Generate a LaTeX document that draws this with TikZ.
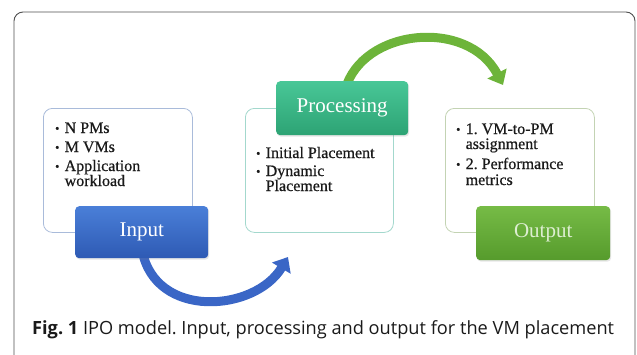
\documentclass[tikz,border=0pt]{standalone}
\usepackage{fontspec}
\setmainfont{Liberation Serif}
\newfontfamily\itemfont{Liberation Serif}[FakeBold=0.6]
\newfontfamily\capfont{Open Sans}
\usetikzlibrary{arrows.meta,shadows}
\definecolor{frameC}{HTML}{505050}
\definecolor{inT}{HTML}{4A7FD8}
\definecolor{inB}{HTML}{2E5AB4}
\definecolor{prT}{HTML}{48C797}
\definecolor{prB}{HTML}{2DA374}
\definecolor{ouT}{HTML}{76BB46}
\definecolor{ouB}{HTML}{569B2C}
\definecolor{inL}{HTML}{A9BBDA}
\definecolor{prL}{HTML}{A3D8CD}
\definecolor{ouL}{HTML}{C3D3B3}
\definecolor{arB}{HTML}{3A66C6}
\definecolor{arG}{HTML}{6DB43A}
\definecolor{txt}{HTML}{1A1A1A}
\tikzset{
  listbox/.style={draw=#1, line width=0.8pt, rounded corners=9pt, fill=white},
  tab/.style={rounded corners=4pt, top color=#1T, bottom color=#1B, draw=none,
    drop shadow={opacity=0.2, shadow xshift=1pt, shadow yshift=-1.5pt}},
  tabtext/.style={font=\fontsize{21}{24}\selectfont, text=#1},
  item/.style={anchor=base west, inner sep=0pt, text=txt, font=\itemfont\fontsize{16}{18}\selectfont},
  bigarrow/.style={draw=#1, line width=9pt, -{Triangle[width=21pt,length=13pt]}, #1},
}
\newcommand{\bul}{\makebox[9.5pt][l]{\raisebox{0.6pt}{\scalebox{0.75}{\textbullet}}}}
\begin{document}
\frenchspacing
\begin{tikzpicture}[x=1pt,y=-1pt]
\useasboundingbox (0,0) rectangle (637,354);
% outer frame
\draw[frameC, line width=0.9pt, rounded corners=9pt] (14,360) -- (14,12) -- (635,12) -- (635,360);

% list boxes
\node[listbox=inL, minimum width=149pt, minimum height=124pt, anchor=north west] (inbox) at (43,108) {};
\node[listbox=prL, minimum width=148pt, minimum height=124pt, anchor=north west] (prbox) at (245,108) {};
\node[listbox=ouL, minimum width=149pt, minimum height=124pt, anchor=north west] (oubox) at (445,108) {};

% arrows
\coordinate (bs) at (142,250);
\coordinate (bt) at (288,257);
\coordinate (gs) at (345,90);
\coordinate (gt) at (503,85);
\draw[bigarrow=arB] (bs) .. controls (155,320) and (255,312) .. (bt);
\draw[bigarrow=arG] (gs) .. controls (362,28) and (468,18) .. (gt);

% tabs
\node[tab=in, minimum width=133pt, minimum height=52pt, anchor=north west] (intab) at (75,206) {};
\node[tabtext=white] at (intab.center) {Input};
\node[tab=pr, minimum width=132pt, minimum height=54pt, anchor=north west] (prtab) at (276,81) {};
\node[tabtext=white] at (prtab.center) {Processing};
\node[tab=ou, minimum width=134pt, minimum height=54pt, anchor=north west] (outab) at (476,206) {};
\node[tabtext=ouT!25!white] at (outab.center) {Output};

% input items
\node[item] (i1) at (55,133) {\bul N PMs};
\node[item] (i2) at (55,152) {\bul M VMs};
\node[item] (i3) at (55,171) {\bul Application};
\node[item] (i4) at (64.5,186) {workload};
% processing items
\node[item] (p1) at (256,158) {\bul Initial Placement};
\node[item] (p2) at (256,176) {\bul Dynamic};
\node[item] (p3) at (265.5,191) {Placement};
% output items
\node[item] (o1) at (456,134) {\bul 1. VM-to-PM};
\node[item] (o2) at (465.5,149) {assignment};
\node[item] (o3) at (456,169) {\bul 2. Performance};
\node[item] (o4) at (465.5,185) {metrics};

% caption
\node[anchor=base west, inner sep=0pt, text=txt, font=\capfont\fontsize{18.2}{21}\selectfont] (cap) at (32,334)
  {\textbf{Fig. 1} IPO model. Input, processing and output for the VM placement};
\end{tikzpicture}
\end{document}
